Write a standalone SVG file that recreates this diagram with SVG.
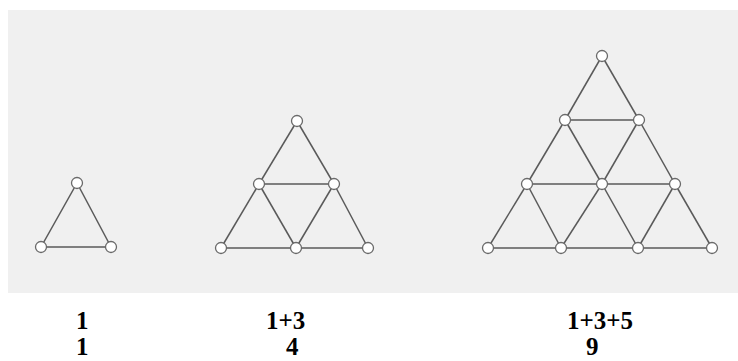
<svg xmlns="http://www.w3.org/2000/svg" width="738" height="361" viewBox="0 0 738 361">
<style>
.bg{fill:#f0f0f0}
.e{stroke:#5a5a5a;stroke-width:1.5;fill:none}
.n{fill:#ffffff;stroke:#6a6a6a;stroke-width:1.3}
.t{font-family:"Liberation Serif","Times New Roman",serif;font-weight:bold;font-size:25px;fill:#000}
</style>
<rect class="bg" x="8" y="10" width="730" height="283"/>
<g id="connectors">
<line class="e" x1="77" y1="183" x2="41" y2="247"/>
<line class="e" x1="77" y1="183" x2="111" y2="247"/>
<line class="e" x1="41" y1="247" x2="111" y2="247"/>

<line class="e" x1="297" y1="121" x2="259" y2="184"/>
<line class="e" x1="297" y1="121" x2="334" y2="184"/>
<line class="e" x1="259" y1="184" x2="334" y2="184"/>
<line class="e" x1="259" y1="184" x2="221" y2="248"/>
<line class="e" x1="259" y1="184" x2="296" y2="248"/>
<line class="e" x1="334" y1="184" x2="296" y2="248"/>
<line class="e" x1="334" y1="184" x2="368" y2="248"/>
<line class="e" x1="221" y1="248" x2="296" y2="248"/>
<line class="e" x1="296" y1="248" x2="368" y2="248"/>

<line class="e" x1="602" y1="56" x2="565" y2="120"/>
<line class="e" x1="602" y1="56" x2="639" y2="120"/>
<line class="e" x1="565" y1="120" x2="639" y2="120"/>
<line class="e" x1="565" y1="120" x2="527" y2="184"/>
<line class="e" x1="565" y1="120" x2="602" y2="184"/>
<line class="e" x1="639" y1="120" x2="602" y2="184"/>
<line class="e" x1="639" y1="120" x2="675" y2="184"/>
<line class="e" x1="527" y1="184" x2="602" y2="184"/>
<line class="e" x1="602" y1="184" x2="675" y2="184"/>
<line class="e" x1="527" y1="184" x2="488" y2="248"/>
<line class="e" x1="527" y1="184" x2="561" y2="248"/>
<line class="e" x1="602" y1="184" x2="561" y2="248"/>
<line class="e" x1="602" y1="184" x2="638" y2="248"/>
<line class="e" x1="675" y1="184" x2="638" y2="248"/>
<line class="e" x1="675" y1="184" x2="712" y2="248"/>
<line class="e" x1="488" y1="248" x2="561" y2="248"/>
<line class="e" x1="561" y1="248" x2="638" y2="248"/>
<line class="e" x1="638" y1="248" x2="712" y2="248"/>
</g>
<g id="s1"><circle class="n" cx="77" cy="183" r="5.5"/></g>
<g id="s2"><circle class="n" cx="41" cy="247" r="5.5"/></g>
<g id="s3"><circle class="n" cx="111" cy="247" r="5.5"/></g>

<g id="m1"><circle class="n" cx="297" cy="121" r="5.5"/></g>
<g id="m2"><circle class="n" cx="259" cy="184" r="5.5"/></g>
<g id="m3"><circle class="n" cx="334" cy="184" r="5.5"/></g>
<g id="m4"><circle class="n" cx="221" cy="248" r="5.5"/></g>
<g id="m5"><circle class="n" cx="296" cy="248" r="5.5"/></g>
<g id="m6"><circle class="n" cx="368" cy="248" r="5.5"/></g>

<g id="l1"><circle class="n" cx="602" cy="56" r="5.5"/></g>
<g id="l2"><circle class="n" cx="565" cy="120" r="5.5"/></g>
<g id="l3"><circle class="n" cx="639" cy="120" r="5.5"/></g>
<g id="l4"><circle class="n" cx="527" cy="184" r="5.5"/></g>
<g id="l5"><circle class="n" cx="602" cy="184" r="5.5"/></g>
<g id="l6"><circle class="n" cx="675" cy="184" r="5.5"/></g>
<g id="l7"><circle class="n" cx="488" cy="248" r="5.5"/></g>
<g id="l8"><circle class="n" cx="561" cy="248" r="5.5"/></g>
<g id="l9"><circle class="n" cx="638" cy="248" r="5.5"/></g>
<g id="l10"><circle class="n" cx="712" cy="248" r="5.5"/></g>

<g id="labels">
<text class="t" x="76" y="329">1</text>
<text class="t" x="76" y="355">1</text>
<text class="t" x="266" y="329">1+3</text>
<text class="t" x="286" y="355">4</text>
<text class="t" x="567" y="329">1+3+5</text>
<text class="t" x="586" y="355">9</text>
</g>
</svg>
